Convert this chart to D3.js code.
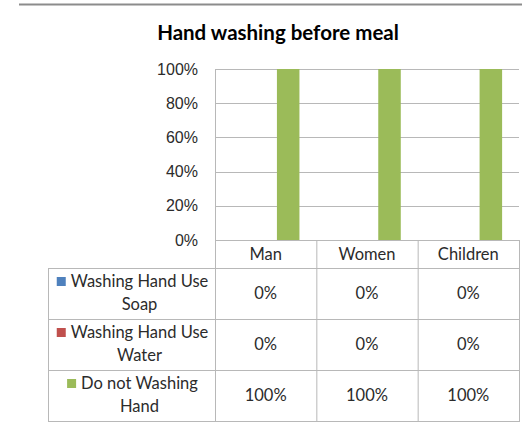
<!DOCTYPE html>
<html>
<head>
<meta charset="utf-8">
<script src="https://cdn.jsdelivr.net/npm/d3@7"></script>
<style>
  body { margin: 0; background: #fff; }
  svg { display: block; font-family: Lato, "Liberation Sans", sans-serif; }
</style>
</head>
<body>
<svg width="522" height="426"></svg>
<script>
// chart data
var categories = ["Man", "Women", "Children"];
var seriesNames = ["Washing Hand Use Soap", "Washing Hand Use Water", "Do not Washing Hand"];
var seriesColors = ["#4F81BD", "#C0504D", "#9BBB59"];
var soapValues = [0, 0, 0];
var waterValues = [0, 0, 0];
var noWashValues = [1, 1, 1];
var yTicks = [0, 0.2, 0.4, 0.6, 0.8, 1];

var svg = d3.select("svg");
var series = [soapValues, waterValues, noWashValues];
var lineColor = "#b8b8b8";
var textColor = "#2b2b2b";
var fmt = d3.format(".0%");
var fs = "16.5px";

// layout
var plotLeft = 215, plotRight = 519, plotTop = 69, plotBottom = 240;
var tableLeft = 48, headerBottom = 268, rowH = 51;

// top separator line
svg.append("line")
  .attr("x1", 19).attr("x2", 522).attr("y1", 4.5).attr("y2", 4.5)
  .attr("stroke", "#8c8c8c").attr("stroke-width", 2);

svg.append("text")
  .attr("x", 278).attr("y", 40)
  .attr("text-anchor", "middle")
  .style("font-size", "20.5px").style("font-weight", "bold")
  .attr("fill", "#000")
  .text("Hand washing before meal");

var x = d3.scaleBand().domain(categories).range([plotLeft, plotRight]);
var x1 = d3.scaleBand().domain(d3.range(series.length))
  .range([0, x.bandwidth()]).paddingInner(0).paddingOuter(0.75);
var y = d3.scaleLinear().domain([0, 1]).range([plotBottom, plotTop]);

// gridlines
svg.append("g").selectAll("line")
  .data(yTicks.slice(1))
  .enter().append("line")
  .attr("x1", plotLeft).attr("x2", plotRight)
  .attr("y1", d => Math.round(y(d)) + 0.5).attr("y2", d => Math.round(y(d)) + 0.5)
  .attr("stroke", lineColor);

// y axis labels
var yAxis = d3.axisLeft(y).tickValues(yTicks).tickFormat(fmt).tickSize(0).tickPadding(17);
var ya = svg.append("g").attr("transform", "translate(" + plotLeft + ",0)").call(yAxis);
ya.select(".domain").remove();
ya.selectAll("text").style("font-size", "16px").attr("fill", textColor).attr("font-family", null);

// bars
series.forEach(function (vals, si) {
  svg.append("g").selectAll("rect")
    .data(vals)
    .enter().append("rect")
    .attr("x", (d, i) => x(categories[i]) + x1(si))
    .attr("width", x1.bandwidth())
    .attr("y", d => y(d))
    .attr("height", d => plotBottom - y(d))
    .attr("fill", seriesColors[si]);
});

// axis line + table grid
var grid = svg.append("g").attr("stroke", lineColor).attr("fill", "none");
grid.append("line").attr("x1", plotLeft + 0.5).attr("x2", plotLeft + 0.5).attr("y1", plotTop).attr("y2", plotBottom);
grid.append("line").attr("x1", plotLeft).attr("x2", plotRight).attr("y1", plotBottom + 0.5).attr("y2", plotBottom + 0.5);
var tableBottom = headerBottom + rowH * series.length;
categories.concat(["end"]).forEach(function (c, i) {
  var xx = (i < categories.length ? x(c) : plotRight) + 0.5;
  grid.append("line").attr("x1", xx).attr("x2", xx).attr("y1", plotBottom).attr("y2", tableBottom);
});
grid.append("line").attr("x1", tableLeft + 0.5).attr("x2", tableLeft + 0.5).attr("y1", headerBottom).attr("y2", tableBottom);
for (var r = 0; r <= series.length; r++) {
  var yy = headerBottom + rowH * r + 0.5;
  grid.append("line").attr("x1", tableLeft).attr("x2", plotRight + 1).attr("y1", yy).attr("y2", yy);
}

// header labels
svg.append("g").selectAll("text")
  .data(categories)
  .enter().append("text")
  .attr("x", d => x(d) + x.bandwidth() / 2)
  .attr("y", (plotBottom + headerBottom) / 2)
  .attr("dy", "0.35em")
  .attr("text-anchor", "middle")
  .style("font-size", fs).attr("fill", textColor)
  .text(d => d);

// legend cells with wrapped labels
function wrapLines(name, maxW) {
  var words = name.split(" "), lines = [], cur = "";
  var tmp = svg.append("text").style("font-size", fs);
  words.forEach(function (w) {
    var test = cur ? cur + " " + w : w;
    tmp.text(test);
    if (tmp.node().getComputedTextLength() > maxW && cur) { lines.push(cur); cur = w; }
    else cur = test;
  });
  lines.push(cur);
  tmp.remove();
  return lines;
}

seriesNames.forEach(function (name, si) {
  var top = headerBottom + rowH * si;
  var lines = wrapLines(name, 146);
  var tmp = svg.append("text").style("font-size", fs);
  var widths = lines.map(function (l) { tmp.text(l); return tmp.node().getComputedTextLength(); });
  tmp.remove();
  var blockW = d3.max(widths);
  var keySize = 9, gap = 5;
  var cellCenter = (tableLeft + plotLeft) / 2 + 1;
  var totalW = keySize + gap + blockW;
  var startX = cellCenter - totalW / 2;
  var textCenter = startX + keySize + gap + blockW / 2;
  var lineH = 23;
  var firstBase = top + rowH / 2 - (lines.length - 1) * lineH / 2 + 5;
  svg.append("rect")
    .attr("x", startX).attr("y", firstBase - 10)
    .attr("width", keySize).attr("height", keySize)
    .attr("fill", seriesColors[si]);
  lines.forEach(function (l, li) {
    svg.append("text")
      .attr("x", textCenter).attr("y", firstBase + li * lineH)
      .attr("text-anchor", "middle")
      .style("font-size", fs).attr("fill", textColor)
      .text(l);
  });
  // values
  svg.append("g").selectAll("text")
    .data(series[si])
    .enter().append("text")
    .attr("x", (d, i) => x(categories[i]) + x.bandwidth() / 2)
    .attr("y", top + rowH / 2)
    .attr("dy", "0.35em")
    .attr("text-anchor", "middle")
    .style("font-size", fs).attr("fill", textColor)
    .text(d => fmt(d));
});
</script>
</body>
</html>
